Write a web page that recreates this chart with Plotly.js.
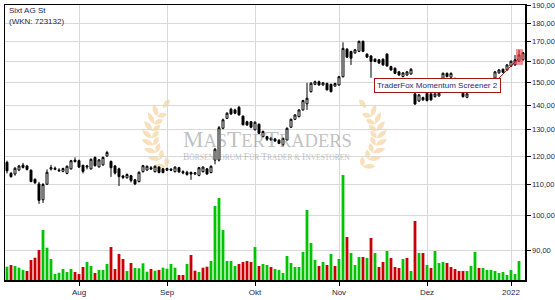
<!DOCTYPE html>
<html><head><meta charset="utf-8">
<script src="https://cdn.plot.ly/plotly-3.0.1.min.js"></script>
<style>html,body{margin:0;padding:0;background:#fff}#chart{width:555px;height:300px}</style>
</head><body><div id="chart"></div>
<script>
// ---- categories: trading days ----
const monthDays = [
  ['2021-07', '07 08 09 12 13 14 15 16 19 20 21 22 23 26 27 28 29 30'],
  ['2021-08', '02 03 04 05 06 09 10 11 12 13 16 17 18 19 20 23 24 25 26 27 30 31'],
  ['2021-09', '01 02 03 06 07 08 09 10 13 14 15 16 17 20 21 22 23 24 27 28 29 30'],
  ['2021-10', '01 04 05 06 07 08 11 12 13 14 15 18 19 20 21 22 25 26 27 28 29'],
  ['2021-11', '01 02 03 04 05 08 09 10 11 12 15 16 17 18 19 22 23 24 25 26 29 30'],
  ['2021-12', '01 02 03 06 07 08 09 10 13 14 15 16 17 20 21 22 23 27 28 29 30'],
  ['2022-01', '03 04 05 06']
];
const dates = [];
monthDays.forEach(([m, d]) => d.split(' ').forEach(x => dates.push(m + '-' + x)));

// ---- series values ----
const openP = [117.7,113.8,113.6,115.0,116.7,116.4,114.9,111.8,110.2,105.0,110.1,115.3,115.2,115.0,114.5,113.8,115.4,118.5,118.3,116.6,
116.0,115.4,119.5,116.1,116.8,120.0,118.0,116.4,115.4,112.9,112.3,113.0,111.6,111.0,114.4,115.0,115.8,114.4,116.0,115.4,
114.9,115.3,114.4,115.8,114.4,114.2,114.1,113.6,113.1,114.4,115.4,114.1,118.5,118.5,130.6,134.6,138.4,138.1,139.2,135.5,
133.2,133.2,130.0,132.2,127.3,127.3,126.7,126.4,125.9,124.2,126.0,131.0,134.2,135.3,138.1,140.7,146.0,149.3,150.5,149.0,
149.7,149.3,148.5,149.0,152.8,166.2,165.0,164.3,165.1,170.2,163.7,162.8,161.2,160.9,161.2,163.7,157.6,156.8,155.1,152.9,
153.6,154.1,145.0,141.9,143.4,145.3,145.0,143.8,144.1,152.1,154.4,152.6,152.0,150.0,145.3,143.5,146.0,147.5,149.5,148.3,
149.6,151.0,152.2,154.6,156.3,156.0,157.8,158.4,160.2,160.9];
const highP = [118.3,114.3,116.0,116.8,117.5,116.8,115.2,112.0,110.9,110.5,115.2,116.8,116.2,115.6,115.8,116.6,118.6,119.5,118.7,116.9,
116.8,119.1,119.8,118.9,119.8,121.9,118.4,116.8,115.8,113.3,113.8,113.3,111.9,114.5,116.8,116.6,116.4,116.6,116.3,115.7,
115.8,115.6,116.3,116.1,114.9,114.7,114.5,114.3,116.1,116.3,115.7,116.6,123.0,131.5,134.5,137.2,139.0,138.6,139.8,135.8,
133.6,133.5,133.4,132.5,129.7,127.6,127.2,126.8,126.3,127.0,130.9,134.5,136.3,138.4,142.4,150.0,150.3,151.0,151.0,150.4,
150.1,149.6,150.0,153.2,169.7,166.7,165.4,166.3,170.6,170.6,164.1,163.2,161.6,161.3,161.6,164.1,158.0,157.2,155.5,155.0,
155.5,156.9,145.4,145.0,143.8,145.7,145.4,145.4,145.7,154.8,154.8,154.8,152.4,150.4,145.7,145.4,148.0,150.0,150.5,150.0,
151.5,152.3,155.5,156.4,156.7,158.8,160.6,163.3,165.9,164.8];
const lowP = [113.8,112.3,113.0,114.6,115.5,114.8,110.8,110.2,103.7,104.0,109.9,114.8,114.9,114.4,114.2,113.5,115.1,117.6,115.7,113.8,
115.2,115.1,116.2,115.8,116.5,119.7,112.6,113.4,109.5,111.8,112.0,110.7,109.8,110.7,114.1,114.7,115.0,114.1,113.8,113.8,
114.6,114.6,114.1,114.0,113.5,113.0,111.6,113.2,112.8,114.1,113.3,113.8,117.0,118.0,130.2,134.3,136.0,136.3,135.7,131.7,
131.5,130.6,129.7,128.3,127.0,125.6,125.7,125.3,124.4,123.5,125.7,130.7,133.9,135.0,137.8,138.1,145.6,148.9,148.7,148.7,
146.5,145.7,148.2,148.7,152.5,161.8,158.4,163.9,164.7,164.7,161.8,152.3,159.7,158.9,158.0,157.5,155.6,154.0,153.2,152.5,
153.2,153.7,140.2,141.5,142.0,141.7,142.0,143.4,143.7,151.7,152.5,152.2,149.5,147.6,143.4,143.1,145.6,147.0,147.8,147.9,
149.2,150.0,151.8,154.2,154.5,155.6,157.4,158.0,159.8,160.5];
const closeP = [114.7,112.7,115.6,116.4,115.9,115.2,111.0,110.6,104.8,110.0,114.2,115.8,115.6,114.7,115.5,116.3,118.3,118.0,116.0,114.5,
116.4,118.8,116.5,118.6,119.5,121.3,115.8,113.9,112.7,112.4,113.4,111.4,110.2,114.2,116.5,116.3,115.3,116.3,114.1,114.1,
115.5,114.9,116.0,114.3,114.0,113.4,113.6,114.0,115.8,116.0,113.6,116.3,122.5,130.8,134.0,136.7,136.4,136.7,136.0,132.0,
131.9,131.0,133.0,128.6,129.3,126.3,126.0,125.6,124.7,126.6,130.6,134.2,136.0,138.1,142.1,143.1,149.8,150.5,149.0,150.0,
146.8,146.0,149.7,152.8,166.6,162.2,161.7,165.9,170.2,165.1,162.2,160.1,160.1,159.3,158.4,157.9,156.0,154.4,153.6,154.6,
155.1,156.3,140.6,144.6,142.4,142.1,142.4,145.0,145.3,154.4,152.9,154.4,150.0,148.0,143.8,145.0,147.5,149.5,148.3,149.6,
151.0,151.8,155.1,156.0,154.9,158.4,160.2,160.9,163.3,164.4];
// volume (relative units)
const volume = [13.3,15,14,12.3,10,9,20,22.3,30,50,32.3,21,6,7.3,11,8,11,8,6,13,18,14,7,10,10,16,33,11,26,21,9,17,12,11.7,
16.7,8.3,11,9.3,10,12.3,11.3,16,12.3,5,5,16,25,9.3,8,12.3,13.3,19,74,82,50,19,19,14,16,18,19,18,33,14,16,15,13,11,10,
7,24,17,13,13,28,70,37,20,14,18,15,26,14,21,105,43,27,15,23,23,22,42,27,13,18,29,22,13,12,21,22,9,59,27,
27,15,12,29,17,18,17,13,11,9,9,9,14,28,12,12,10,10,9,7,8,5,10,6,19,null];
// volume bar direction: g = up, r = down
const volDir = ('grgggrrrrg'+'gggggggrrr'+'ggrgggrrrr'+'grgg'+
  'ggrgrggggr'+'rgrrgrrggg'+'ggggrrrrgr'+'ggrgg'+
  'gggggggggr'+'grgrggrggg'+'rgrgrrgrrr'+'grgrg'+
  'rgrgggrrrr'+'rgggrggggg'+'gggggg').split('');

const tickDates = ['2021-08-02','2021-09-01','2021-10-01','2021-11-01','2021-12-01','2022-01-03'];
const tickLabels = ['Aug','Sep','Okt','Nov','Dez','2022'];
const priceTicks = [90,100,110,120,130,140,150,160,170,180,190];
const priceLabels = ['90,00','100,00','110,00','120,00','130,00','140,00','150,00','160,00','170,00','180,00','190,00'];

const titleText = 'Sixt AG St';
const wknText = '(WKN: 723132)';
const signalText = 'TraderFox Momentum Screener 2';
const signalIndex = 128;

// ---- layout helpers (pixel -> paper) ----
const PL = 5, PR = 525, PT = 5, PB = 280;
const px = x => (x - PL) / (PR - PL);
const py = y => (PB - y) / (PB - PT);

function leaf(bx, by, dx, dy, len, wid) {
  const tx = bx + dx * len, ty = by + dy * len;
  const nx = -dy, ny = dx;
  const mx = bx + dx * len * 0.5, my = by + dy * len * 0.5;
  const c1x = mx + nx * wid, c1y = my + ny * wid, c2x = mx - nx * wid, c2y = my - ny * wid;
  return `M${px(bx)},${py(by)} Q${px(c1x)},${py(c1y)} ${px(tx)},${py(ty)} Q${px(c2x)},${py(c2y)} ${px(bx)},${py(by)} Z`;
}
function laurel(mirror) {
  const cx = 264.5;
  const P0 = [170, 170], P1 = [138, 140], P2 = [163, 108];
  const mX = x => mirror ? 2 * cx - x : x;
  const pt = t => [(1-t)*(1-t)*P0[0] + 2*(1-t)*t*P1[0] + t*t*P2[0], (1-t)*(1-t)*P0[1] + 2*(1-t)*t*P1[1] + t*t*P2[1]];
  const tg = t => { const dx = 2*(1-t)*(P1[0]-P0[0]) + 2*t*(P2[0]-P1[0]); const dy = 2*(1-t)*(P1[1]-P0[1]) + 2*t*(P2[1]-P1[1]); const n = Math.hypot(dx, dy); return [dx/n, dy/n]; };
  let path = '';
  for (let k = 0; k < 8; k++) {
    const t = 0.06 + k * 0.115;
    const [bx, by] = pt(t); const [dx, dy] = tg(t);
    for (const s of [-1, 1]) {
      const a = s * 0.8;
      const rx = dx * Math.cos(a) - dy * Math.sin(a);
      const ry = dx * Math.sin(a) + dy * Math.cos(a);
      path += leaf(mX(bx), by, mirror ? -rx : rx, ry, s < 0 ? 13 : 10, 5) + ' ';
    }
  }
  const [ex, ey] = pt(1); const [edx, edy] = tg(1);
  path += leaf(mX(ex), ey, mirror ? -edx : edx, edy, 11, 5);
  return {type: 'path', xref: 'paper', yref: 'paper', path: path, fillcolor: '#f9e0bd', line: {width: 0}, layer: 'below'};
}

const font = 'Liberation Sans, Arial, sans-serif';
const txtColor = '#1a1f45';

const traces = [
  {type: 'candlestick', x: dates, open: openP, high: highP, low: lowP, close: closeP,
   xaxis: 'x', yaxis: 'y', whiskerwidth: 0, hoverinfo: 'skip',
   increasing: {line: {color: '#000', width: 1}, fillcolor: '#fff'},
   decreasing: {line: {color: '#000', width: 1}, fillcolor: '#000'}},
  {type: 'bar', x: dates, y: volume, xaxis: 'x', yaxis: 'y2', hoverinfo: 'skip',
   marker: {color: volDir.map(d => d === 'g' ? '#00c400' : '#c80000'), line: {width: 0}}}
];

const big = s => `<span style="font-size:23px">${s}</span>`;
const sm = s => `<span style="font-size:9.5px">${s}</span>`;

const layout = {
  width: 555, height: 300,
  margin: {l: PL, r: 555 - PR, t: PT, b: 300 - PB, pad: 0},
  paper_bgcolor: '#fff', plot_bgcolor: '#fff',
  showlegend: false, hovermode: false, bargap: 0.3,
  xaxis: {type: 'category', range: [-0.5, dates.length - 0.5], rangeslider: {visible: false},
    tickmode: 'array', tickvals: tickDates, ticktext: tickLabels,
    showgrid: true, gridcolor: '#d9d9d9', gridwidth: 1, zeroline: false,
    ticks: 'outside', ticklen: 4, tickcolor: '#000', tickwidth: 1,
    showline: true, linecolor: '#000', linewidth: 1.5, mirror: true,
    tickfont: {family: font, size: 8, color: txtColor}, fixedrange: true},
  yaxis: {type: 'log', side: 'right', range: [1.9150, 2.2791],
    tickmode: 'array', tickvals: priceTicks, ticktext: priceLabels,
    showgrid: true, gridcolor: '#d9d9d9', gridwidth: 1, zeroline: false,
    ticks: 'outside', ticklen: 4, tickcolor: '#000', tickwidth: 1,
    showline: true, linecolor: '#000', linewidth: 1.5, mirror: true,
    tickfont: {family: font, size: 7.5, color: txtColor}, fixedrange: true},
  yaxis2: {overlaying: 'y', range: [0, PB - PT], visible: false, fixedrange: true},
  shapes: [
    laurel(false), laurel(true),
    {type: 'rect', xref: 'x', yref: 'y', x0: signalIndex - 0.75, x1: signalIndex + 1.0, y0: 158.4, y1: 166.2,
     fillcolor: 'rgba(238,70,70,0.6)', line: {width: 0}, layer: 'above'},
    {type: 'line', xref: 'x', yref: 'y', x0: 122.5, y0: 151.3, x1: signalIndex - 0.25, y1: 161.3,
     line: {color: '#a51515', width: 1}, layer: 'above'}
  ],
  annotations: [
    {xref: 'paper', yref: 'paper', x: px(267), y: py(139), xanchor: 'center', yanchor: 'middle', showarrow: false,
     text: big('M') + 'AS' + big('T') + 'ER' + big('T') + 'RADERS',
     font: {family: 'Liberation Serif, Times New Roman, serif', size: 18.5, color: 'rgba(140,140,140,0.55)'}},
    {xref: 'paper', yref: 'paper', x: px(266), y: py(157), xanchor: 'center', yanchor: 'middle', showarrow: false,
     text: sm('B') + 'ÖRSEN' + sm('F') + 'ORUM ' + sm('F') + 'ÜR ' + sm('T') + 'RADER &amp; ' + sm('I') + 'NVESTOREN',
     font: {family: 'Liberation Serif, Times New Roman, serif', size: 7.5, color: 'rgba(140,140,140,0.55)'}},
    {xref: 'paper', yref: 'paper', x: px(7), y: py(10), xanchor: 'left', yanchor: 'middle', showarrow: false,
     text: titleText, font: {family: font, size: 8, color: txtColor}},
    {xref: 'paper', yref: 'paper', x: px(7), y: py(21), xanchor: 'left', yanchor: 'middle', showarrow: false,
     text: wknText, font: {family: font, size: 8, color: txtColor}},
    {xref: 'x', yref: 'y', x: 107.5, y: Math.log10(148.6), xanchor: 'center', yanchor: 'middle', showarrow: false,
     text: signalText, font: {family: font, size: 8, color: '#1c2a78'},
     bgcolor: '#fff', bordercolor: '#a51515', borderwidth: 1, borderpad: 2}
  ]
};

Plotly.newPlot('chart', traces, layout, {staticPlot: true, displayModeBar: false});
</script>
</body></html>
